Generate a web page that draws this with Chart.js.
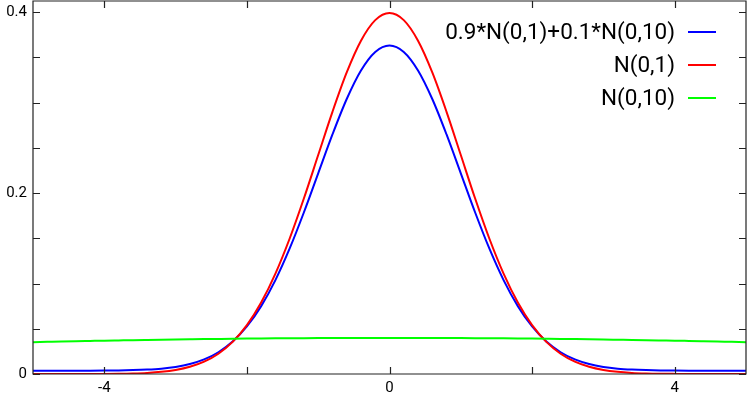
<!DOCTYPE html>
<html>
<head>
<meta charset="utf-8">
<script src="https://cdn.jsdelivr.net/npm/chart.js@4.4.1/dist/chart.umd.min.js"></script>
<style>
html,body{margin:0;padding:0;background:#fff;}
#wrap{position:relative;width:747px;height:398px;}
</style>
</head>
<body>
<div id="wrap"><canvas id="c" width="747" height="398"></canvas></div>
<script>
// ---- data ----
const xValues = [-5.0,-4.8,-4.6,-4.4,-4.2,-4.0,-3.8,-3.6,-3.4,-3.2,-3.0,-2.8,-2.6,-2.4,-2.2,-2.0,-1.8,-1.6,-1.4,-1.2,-1.0,-0.8,-0.6,-0.4,-0.2,
  0.0,0.2,0.4,0.6,0.8,1.0,1.2,1.4,1.6,1.8,2.0,2.2,2.4,2.6,2.8,3.0,3.2,3.4,3.6,3.8,4.0,4.2,4.4,4.6,4.8,5.0];

const mixValues = [0.00352,0.00356,0.00360,0.00364,0.00370,0.00380,0.00397,0.00429,0.00488,0.00593,0.00780,0.01097,0.01608,0.02403,0.03581,0.05250,0.07499,0.10377,0.13871,0.17873,0.22174,0.26470,0.30388,0.33543,0.35593,
  0.36304,0.35593,0.33543,0.30388,0.26470,0.22174,0.17873,0.13871,0.10377,0.07499,0.05250,0.03581,0.02403,0.01608,0.01097,0.00780,0.00593,0.00488,0.00429,0.00397,0.00380,0.00370,0.00364,0.00360,0.00356,0.00352];

const n01Values = [0.00000,0.00000,0.00001,0.00003,0.00006,0.00013,0.00029,0.00061,0.00123,0.00238,0.00443,0.00792,0.01358,0.02239,0.03547,0.05399,0.07895,0.11092,0.14973,0.19419,0.24197,0.28969,0.33322,0.36827,0.39104,
  0.39894,0.39104,0.36827,0.33322,0.28969,0.24197,0.19419,0.14973,0.11092,0.07895,0.05399,0.03547,0.02239,0.01358,0.00792,0.00443,0.00238,0.00123,0.00061,0.00029,0.00013,0.00006,0.00003,0.00001,0.00000,0.00000];

const n010Values = [0.03521,0.03555,0.03589,0.03621,0.03652,0.03683,0.03711,0.03739,0.03765,0.03790,0.03814,0.03836,0.03857,0.03876,0.03894,0.03910,0.03925,0.03939,0.03951,0.03961,0.03970,0.03977,0.03982,0.03986,0.03989,
  0.03989,0.03989,0.03986,0.03982,0.03977,0.03970,0.03961,0.03951,0.03939,0.03925,0.03910,0.03894,0.03876,0.03857,0.03836,0.03814,0.03790,0.03765,0.03739,0.03711,0.03683,0.03652,0.03621,0.03589,0.03555,0.03521];

const seriesLabels = ['0.9*N(0,1)+0.1*N(0,10)', 'N(0,1)', 'N(0,10)'];

const xTickValues = [-4, -2, 0, 2, 4];
const xTickLabels = ['-4', '', '0', '', '4'];
const yTickValues = [0, 0.05, 0.1, 0.15, 0.2, 0.25, 0.3, 0.35, 0.4];
const yTickLabels = ['0', '', '', '', '0.2', '', '', '', '0.4'];

// ---- chart ----
const FONT = 'Roboto, "Liberation Sans", sans-serif';
const AXIS_COLOR = '#222222';
const toPts = vals => xValues.map((x, i) => ({x: x, y: vals[i]}));

const boxPlugin = {
  id: 'box',
  afterDatasetsDraw(chart) {
    const ctx = chart.ctx, a = chart.chartArea;
    const xs = chart.scales.x, ys = chart.scales.y;
    const TL = 7;
    ctx.save();
    ctx.strokeStyle = AXIS_COLOR;
    ctx.lineWidth = 1.2;
    ctx.beginPath();
    ctx.rect(a.left, a.top, a.right - a.left, a.bottom - a.top);
    xTickValues.forEach(v => {
      const p = Math.round(xs.getPixelForValue(v)) + 0.5;
      ctx.moveTo(p, a.bottom); ctx.lineTo(p, a.bottom - TL);
      ctx.moveTo(p, a.top); ctx.lineTo(p, a.top + TL);
    });
    yTickValues.forEach(v => {
      const p = Math.round(ys.getPixelForValue(v)) + 0.5;
      ctx.moveTo(a.left, p); ctx.lineTo(a.left + TL, p);
      ctx.moveTo(a.right, p); ctx.lineTo(a.right - TL, p);
    });
    ctx.stroke();
    ctx.restore();
  }
};

const legendPlugin = {
  id: 'gpLegend',
  afterDraw(chart) {
    const ctx = chart.ctx;
    ctx.save();
    // size the legend font so the longest entry spans the width seen in the reference
    let size = 18;
    ctx.font = size + 'px ' + FONT;
    const w = ctx.measureText(seriesLabels[0]).width;
    size = Math.round(size * 228 / w * 2) / 2;
    ctx.font = size + 'px ' + FONT;
    ctx.textAlign = 'right';
    ctx.textBaseline = 'middle';
    const textRight = 675, lx0 = 688, lx1 = 716;
    const rows = [32, 65, 98];
    seriesLabels.forEach((lab, i) => {
      const ds = chart.data.datasets.find(d => d.label === lab);
      ctx.fillStyle = '#000';
      ctx.fillText(lab, textRight, rows[i] + 1);
      ctx.strokeStyle = ds.borderColor;
      ctx.lineWidth = 2;
      ctx.beginPath();
      ctx.moveTo(lx0, rows[i]); ctx.lineTo(lx1, rows[i]);
      ctx.stroke();
    });
    ctx.restore();
  }
};

new Chart(document.getElementById('c'), {
  type: 'line',
  data: {
    datasets: [
      {label: seriesLabels[0], data: toPts(mixValues), borderColor: '#0000ff', order: 2},
      {label: seriesLabels[1], data: toPts(n01Values), borderColor: '#ff0000', order: 1},
      {label: seriesLabels[2], data: toPts(n010Values), borderColor: '#00ff00', order: 0}
    ]
  },
  options: {
    responsive: false,
    animation: false,
    devicePixelRatio: 1,
    layout: {padding: {top: 1, right: 1, left: 0, bottom: 0}},
    elements: {
      point: {radius: 0},
      line: {borderWidth: 2, cubicInterpolationMode: 'monotone', fill: false}
    },
    plugins: {legend: {display: false}, tooltip: {enabled: false}},
    scales: {
      x: {
        type: 'linear', min: -5, max: 5,
        grid: {display: false, drawTicks: false},
        border: {display: false},
        afterBuildTicks: s => { s.ticks = xTickValues.map(v => ({value: v})); },
        afterFit: s => { s.height = 24; s.paddingLeft = 0; s.paddingRight = 0; },
        ticks: {
          autoSkip: false, maxRotation: 0, padding: 5,
          color: '#000', font: {family: FONT, size: 15},
          callback: (v) => { const i = xTickValues.indexOf(v); return i >= 0 ? xTickLabels[i] : ''; }
        }
      },
      y: {
        type: 'linear', min: 0, max: 0.4122,
        grid: {display: false, drawTicks: false},
        border: {display: false},
        afterBuildTicks: s => { s.ticks = yTickValues.map(v => ({value: v})); },
        afterFit: s => { s.width = 33; s.paddingTop = 0; s.paddingBottom = 0; },
        ticks: {
          autoSkip: false, padding: 6,
          color: '#000', font: {family: FONT, size: 15},
          callback: (v) => { const i = yTickValues.indexOf(v); return i >= 0 ? yTickLabels[i] : ''; }
        }
      }
    }
  },
  plugins: [boxPlugin, legendPlugin]
});
</script>
</body>
</html>
